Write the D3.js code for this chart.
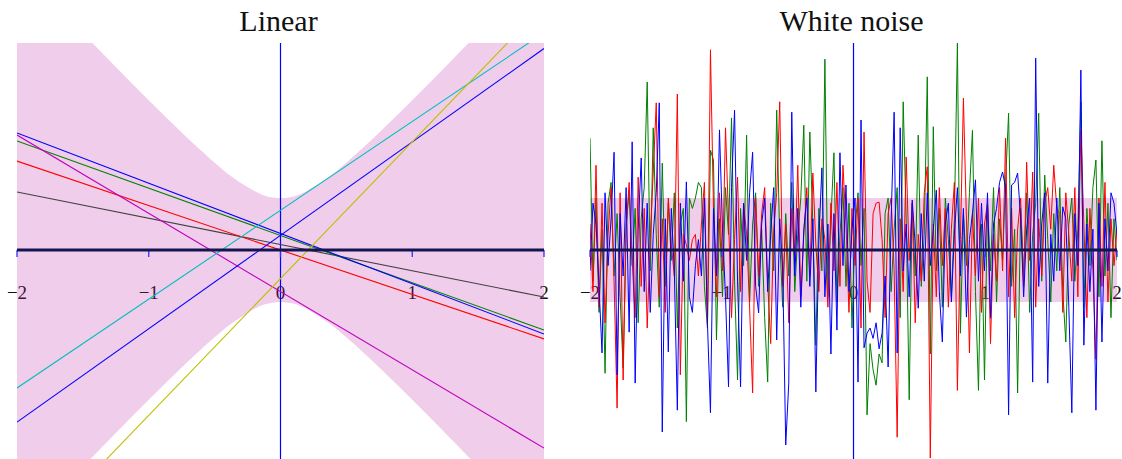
<!DOCTYPE html>
<html>
<head>
<meta charset="utf-8">
<script src="https://d3js.org/d3.v7.min.js"></script>
<style>
  body { margin: 0; background: white; }
  text { font-family: "Liberation Serif", "DejaVu Serif", serif; fill: #111; }
  .title { font-size: 30px; }
  .tick-label { font-size: 19px; }
</style>
</head>
<body>
<svg id="chart" width="1122" height="459"></svg>
<script>
// ---- data ----
var ticks = [-2, -1, 0, 1, 2];
var panelTitles = ["Linear", "White noise"];

// pink band half-width (in y units) for the linear panel
var bandX    = [-2, -1.75, -1.5, -1.25, -1, -0.75, -0.5, -0.375, -0.25, -0.125, 0, 0.125, 0.25, 0.375, 0.5, 0.75, 1, 1.25, 1.5, 1.75, 2];
var bandHalf = [5.5, 4.83, 4.17, 3.52, 2.88, 2.26, 1.68, 1.42, 1.21, 1.05, 1.0, 1.05, 1.21, 1.42, 1.68, 2.26, 2.88, 3.52, 4.17, 4.83, 5.5];

// sampled straight lines: value at x=-2 and at x=2
var lineColors = ["#404040", "#ff0000", "#008000", "#0000ff", "#bf00bf", "#00bfbf", "#0000ff", "#bfbf00"];
var lineStart  = [1.115, 1.71, 2.096, 2.25, 2.21, -2.654, -3.31, -5.81];
var lineEnd    = [-0.904, -1.71, -1.538, -1.615, -3.81, 4.18, 3.874, 4.71];

// white noise samples (176 points each, x from -2 to 2)
var noiseRed = [
  0.5, -0.8, 1.63, -1.1, 0.9, -1.4, 0.3, 1.2, -0.6, -3.04,
  1.1, -2.5, 0.4, 1.3, -0.2, -1.3, 1.4, -0.7, 0.8, -1.5,
  0.2, 1.5, 2.83, -0.9, 0.6, -1.2, 1.0, 0.1, -0.5, 3.0,
  -2.4, 0.3, 0.1, -0.2, 0.2, 0.3, -0.5, 0.5, 1.3, -1.44,
  3.85, 0.8, -0.9, 1.1, -0.4, 2.35, 0.6, -1.3, 0.2, 1.4,
  -0.8, 0.9, 0.3, -1.1, -2.75, 1.0, -0.5, 0.7, 1.2, -0.6,
  -1.8, 0.4, 1.1, 2.85, -0.7, 0.5, -1.4, 0.8, -0.2, 1.63,
  -0.9, 0.3, 1.2, -0.5, 1.48, 0.1, -0.8, 0.6, 0.2, -1.1,
  0.9, -0.4, 1.3, -0.7, 1.63, 0.5, -1.2, 0.8, -0.3, 1.0,
  -1.5, 2.27, -0.6, -1.2, 0.7, 0.9, 0.92, 0.2, -1.3, 0.7,
  1.0, -0.4, -3.6, 0.6, -0.8, 1.79, -0.2, 0.9, -1.4, 0.3,
  -0.6, 1.1, 1.6, -4.0, 0.5, -0.9, 1.2, -0.3, 0.8, -1.1,
  0.4, 1.3, -2.7, 0.2, 2.92, 0.6, -1.98, 0.7, -0.5, 1.0,
  -1.2, 0.5, 0.9, -1.8, 0.3, -0.6, 1.2, -0.4, 2.15, -0.9,
  0.8, -1.3, 0.4, 1.0, -0.7, 1.69, -0.2, 1.5, -1.1, 0.6,
  -0.5, 0.9, 1.2, 0.4, 1.63, 0.8, 0.7, -1.2, 1.1, 0.3,
  -0.6, 1.2, -0.9, 2.3, 0.5, -1.3, 0.8, -0.4, -2.1, 1.0,
  -0.7, 1.3, -1.0, 0.6, -0.3, 0.4];
var noiseGreen = [
  2.15, -0.6, 1.0, -1.2, 0.4, -2.37, 0.9, 1.3, -0.5, 0.7,
  -0.9, -2.27, 0.5, 1.1, -0.3, 0.8, -1.4, 0.6, 1.2, 3.23,
  -0.4, 2.35, 0.3, -1.1, 1.67, -0.7, 0.9, -0.2, 1.1, -1.5,
  0.5, 0.8, -3.3, 1.0, 0.8, 1.0, 1.3, 1.2, -0.7, -1.5,
  1.92, 1.73, -1.73, 0.6, -0.9, 1.2, 0.3, 2.54, -0.6, -2.5,
  0.8, -0.3, 2.21, -1.0, 0.5, 1.1, -0.7, 0.4, -1.3, -2.54,
  0.9, -0.4, 2.69, 0.2, -1.1, 0.7, -0.5, 1.3, -0.8, 0.3,
  1.0, 2.4, -0.6, 2.27, 0.5, -1.83, 0.8, -0.4, 3.67, -0.9,
  0.6, 1.87, -1.0, 0.3, 1.2, -0.7, 0.9, -1.5, 0.4, 1.1,
  -0.3, 0.8, -3.17, -1.8, -2.3, -2.6, -2.0, -2.17, 0.7, 1.0,
  -0.8, 0.4, 1.2, -1.3, 2.85, 0.6, -2.88, 0.9, -0.5, 2.21,
  -0.7, 0.3, 3.33, -2.0, 2.37, -0.4, 0.8, -1.1, 1.0, 0.2,
  -0.9, 0.6, 3.98, -1.6, 0.7, -0.3, 1.1, 2.3, -0.8, -2.7,
  0.5, -2.5, 0.9, -0.4, 1.2, -1.0, 0.6, -0.2, 1.3, 2.63,
  -0.7, 0.4, -2.75, 0.8, -0.5, 1.1, -1.2, 0.3, 0.9, 2.63,
  -0.6, 1.44, 0.2, -1.0, 0.7, -0.4, 1.2, -0.8, -1.77, 0.5,
  1.0, -0.6, 0.4, 2.85, -1.1, 0.8, -0.3, 1.2, 1.73, -0.9,
  2.1, -0.5, 0.9, -1.3, 0.6, -0.2];
var noiseBlue = [
  -0.4, 0.9, 0.5, -0.7, -1.98, 1.1, -0.3, 0.6, 1.88, -2.4,
  0.7, -0.5, 1.2, -1.58, 2.08, -2.56, 0.4, 1.77, -0.8, 0.9,
  -1.2, 0.3, 1.1, 2.83, -3.5, 0.6, -1.96, 0.8, -0.4, -3.08,
  0.9, -0.6, 1.31, -0.9, -1.2, -0.3, 0.2, -0.5, 1.0, -1.4,
  -3.13, 0.8, -0.5, 2.31, 0.4, -0.9, -2.63, 1.2, 2.69, -0.6,
  -2.63, 0.9, -0.2, 1.1, 1.88, -0.7, -1.21, 0.5, 1.0, -0.8,
  0.3, 1.2, -1.73, 0.6, -0.4, -3.75, -2.56, 2.65, -0.5, 0.8,
  -1.1, 0.4, 1.0, -0.7, 0.6, -2.73, 0.2, 1.58, -0.9, 0.5,
  -2.0, 0.7, -1.54, 1.87, -0.3, 1.25, -0.8, 0.4, 1.0, -2.54,
  2.5, -1.88, -1.6, -1.5, -1.7, -1.4, -1.9, -1.6, -0.5, -2.25,
  0.6, 2.65, -1.98, 2.35, -0.4, 0.5, -0.9, 0.96, 0.1, -1.12,
  0.7, -0.6, 1.1, -0.3, 0.4, 1.15, -0.8, -1.77, 0.5, 0.9,
  -1.0, 0.3, 1.2, -0.5, 0.8, -1.29, 0.2, 0.7, 1.35, -0.6,
  0.9, -0.4, 1.1, -1.31, 0.5, 0.8, 1.3, 1.5, 1.2, -3.17,
  1.25, 1.3, 1.48, 0.6, -0.9, 0.4, 1.0, -2.54, 3.69, -0.7,
  0.5, 1.1, -2.56, 0.3, -0.6, 1.0, -0.4, 0.83, 0.6, -1.1,
  -3.13, 0.7, -0.3, 3.46, -1.83, 0.5, -0.8, 0.4, -3.08, 0.9,
  -1.77, 0.6, -0.4, 1.1, 0.9, 0.3];
var noiseBand = 1;

var svg = d3.select("#chart");

var panels = [{left: 17, right: 544}, {left: 590, right: 1117}];
var y = d3.scaleLinear().domain([-4, 4]).range([458, 42]);
var plotTop = 43, plotBottom = 459;

panels.forEach(function(p, k) {
  var x = d3.scaleLinear().domain([-2, 2]).range([p.left, p.right]);
  var g = svg.append("g");

  g.append("clipPath").attr("id", "clip" + k)
    .append("rect")
      .attr("x", p.left).attr("y", plotTop)
      .attr("width", p.right - p.left).attr("height", plotBottom - plotTop);

  // title
  g.append("text").attr("class", "title")
    .attr("x", (p.left + p.right) / 2 - 2).attr("y", 31)
    .attr("text-anchor", "middle")
    .text(panelTitles[k]);

  // tick labels (drawn under everything)
  g.selectAll(".tick-label").data(ticks).enter().append("text")
    .attr("class", "tick-label")
    .attr("x", function(d) { return x(d); })
    .attr("y", 299)
    .attr("text-anchor", "middle")
    .text(function(d) { return d3.format("d")(d).replace("-", "\u2212"); });

  var plot = g.append("g").attr("clip-path", "url(#clip" + k + ")");

  // band
  if (k === 0) {
    var area = d3.area()
      .x(function(d, i) { return x(bandX[i]); })
      .y0(function(d) { return y(-d); })
      .y1(function(d) { return y(d); })
      .curve(d3.curveCatmullRom);
    plot.append("path").datum(bandHalf)
      .attr("d", area)
      .attr("fill", "rgb(190,40,170)").attr("fill-opacity", 0.23);
  } else {
    plot.append("rect")
      .attr("x", x(-2)).attr("y", y(noiseBand))
      .attr("width", x(2) - x(-2)).attr("height", y(-noiseBand) - y(noiseBand))
      .attr("fill", "rgb(190,40,170)").attr("fill-opacity", 0.23);
  }

  // vertical axis line
  plot.append("line")
    .attr("x1", x(0)).attr("x2", x(0))
    .attr("y1", plotTop).attr("y2", plotBottom)
    .attr("stroke", "#0000ff").attr("stroke-width", 1.2);

  if (k === 0) {
    plot.selectAll(".lin").data(lineColors).enter().append("line")
      .attr("x1", x(-2)).attr("x2", x(2))
      .attr("y1", function(d, i) { return y(lineStart[i]); })
      .attr("y2", function(d, i) { return y(lineEnd[i]); })
      .attr("stroke", function(d) { return d; })
      .attr("stroke-width", 1.1);
  } else {
    var n = noiseRed.length;
    var xs = d3.scaleLinear().domain([0, n - 1]).range([-2, 2]);
    var line = d3.line()
      .x(function(d, i) { return x(xs(i)); })
      .y(function(d) { return y(d); });
    [[noiseGreen, "#008000"], [noiseRed, "#ff0000"], [noiseBlue, "#0000ff"]].forEach(function(s) {
      plot.append("path").datum(s[0])
        .attr("d", line)
        .attr("fill", "none")
        .attr("stroke", s[1])
        .attr("stroke-width", 1.0);
    });
  }

  // horizontal axis with ticks
  g.selectAll(".tk").data(ticks).enter().append("line")
    .attr("x1", function(d) { return x(d); })
    .attr("x2", function(d) { return x(d); })
    .attr("y1", y(0)).attr("y2", y(0) + 7)
    .attr("stroke", "#3030ff").attr("stroke-width", 1.3);
  g.append("line")
    .attr("x1", x(-2)).attr("x2", x(2))
    .attr("y1", y(0)).attr("y2", y(0))
    .attr("stroke", "#141450").attr("stroke-width", 3);
});
</script>
</body>
</html>
